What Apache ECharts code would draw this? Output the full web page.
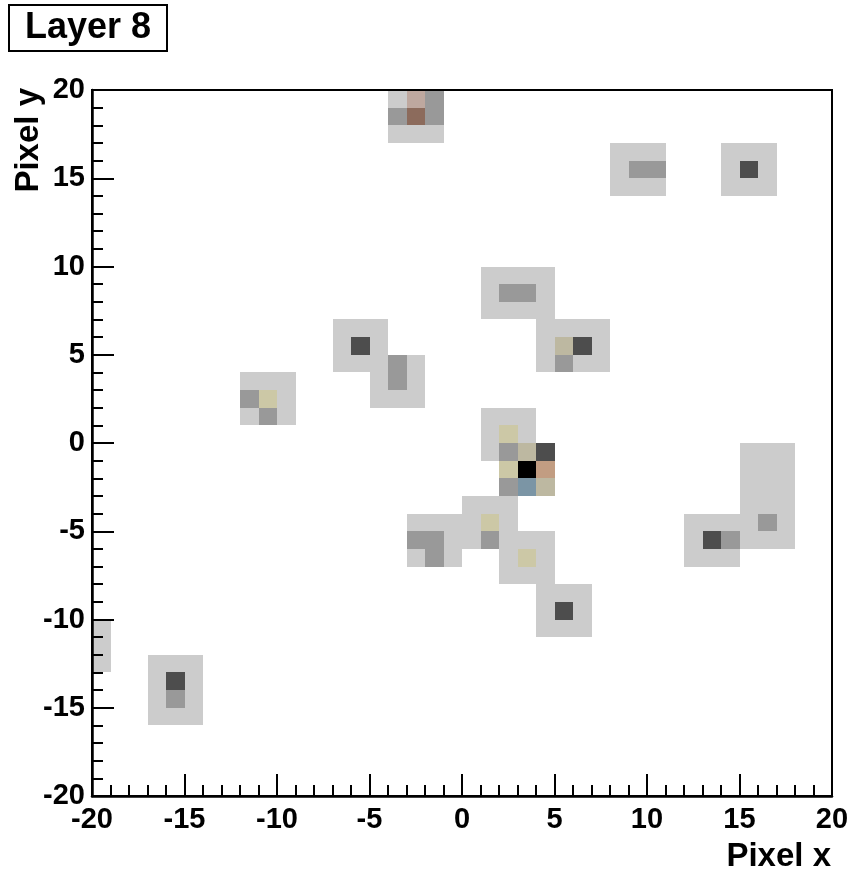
<!DOCTYPE html>
<html>
<head>
<meta charset="utf-8">
<title>Layer 8</title>
<script src="https://cdn.jsdelivr.net/npm/echarts@6/dist/echarts.min.js"></script>
<style>
  html, body { margin: 0; padding: 0; background: #ffffff; }
  #chart { width: 852px; height: 873px; }
</style>
</head>
<body>
<div id="chart"></div>
<script>
// Pixel bins are 1 x 1; each entry is the lower-left corner [x, y] of a bin.
const axisMin = -20;
const axisMax = 20;
const majorStep = 5;

// Neighbouring pixels around each hit (lowest level)
const haloCells = [
  [-4, 19], [-4, 17], [-3, 17], [-2, 17],
  [8, 16], [9, 16], [10, 16], [8, 15], [8, 14], [9, 14], [10, 14],
  [14, 16], [15, 16], [16, 16], [14, 15], [16, 15], [14, 14], [15, 14], [16, 14],
  [-7, 6], [-6, 6], [-5, 6], [-7, 5], [-5, 5], [-7, 4], [-6, 4], [-5, 4],
  [-3, 4], [-5, 3], [-3, 3], [-5, 2], [-4, 2], [-3, 2],
  [1, 9], [2, 9], [3, 9], [4, 9], [1, 8], [4, 8], [1, 7], [2, 7], [3, 7], [4, 7],
  [4, 6], [5, 6], [6, 6], [7, 6], [4, 5], [7, 5], [4, 4], [6, 4], [7, 4],
  [-12, 3], [-11, 3], [-10, 3], [-10, 2], [-12, 1], [-10, 1],
  [1, 1], [2, 1], [3, 1], [1, 0], [3, 0], [1, -1],
  [0, -4], [1, -4], [2, -4], [0, -5], [2, -5], [0, -6], [2, -6],
  [-3, -5], [-2, -5], [-1, -5], [-1, -6], [-3, -7], [-1, -7],
  [3, -6], [4, -6], [2, -7], [4, -7], [2, -8], [3, -8], [4, -8],
  [4, -9], [5, -9], [6, -9], [4, -10], [6, -10], [4, -11], [5, -11], [6, -11],
  [15, -1], [16, -1], [17, -1], [15, -2], [16, -2], [17, -2],
  [15, -3], [16, -3], [17, -3], [15, -4], [16, -4], [17, -4],
  [15, -5], [17, -5], [15, -6], [16, -6], [17, -6],
  [12, -5], [13, -5], [14, -5], [12, -6], [12, -7], [13, -7], [14, -7],
  [-20, -11], [-20, -12], [-20, -13],
  [-17, -13], [-16, -13], [-15, -13], [-17, -14], [-15, -14],
  [-17, -15], [-15, -15], [-17, -16], [-16, -16], [-15, -16]
];

const midCells = [
  [-2, 19], [-4, 18], [-2, 18], [9, 15], [10, 15], [-4, 4], [-4, 3],
  [2, 8], [3, 8], [5, 4], [-12, 2], [-11, 1], [2, -1], [2, -3],
  [1, -6], [-3, -6], [-2, -6], [-2, -7], [16, -5], [14, -6], [-16, -15]
];

const darkCells = [
  [15, 15], [-6, 5], [6, 5], [4, -1], [5, -10], [13, -6], [-16, -14]
];

const peakCells = [[3, -2]];

const tanCells = [[-11, 2], [2, 0], [2, -2], [1, -5], [3, -7]];
const greyTanCells = [[5, 5], [3, -1], [4, -3]];
const roseCells = [[-3, 19]];
const brownCells = [[-3, 18]];
const salmonCells = [[4, -2]];
const steelCells = [[3, -3]];

// Fill colour for each group of bins
const layers = [
  { name: 'halo', cells: haloCells, color: '#cccccc' },
  { name: 'mid', cells: midCells, color: '#999999' },
  { name: 'dark', cells: darkCells, color: '#4d4d4d' },
  { name: 'peak', cells: peakCells, color: '#000000' },
  { name: 'tan', cells: tanCells, color: '#ccc8a6' },
  { name: 'greytan', cells: greyTanCells, color: '#bdb8a1' },
  { name: 'rose', cells: roseCells, color: '#bea89f' },
  { name: 'brown', cells: brownCells, color: '#8c6b5c' },
  { name: 'salmon', cells: salmonCells, color: '#c29d82' },
  { name: 'steel', cells: steelCells, color: '#7b95a5' }
];

const FONT = 'Liberation Sans, Arial, Helvetica, sans-serif';

// Bin edges snapped to whole pixels so that adjacent bins join without seams
function binRenderer(color) {
  return function (params, api) {
    const x = api.value(0);
    const y = api.value(1);
    const topLeft = api.coord([x, y + 1]);
    const bottomRight = api.coord([x + 1, y]);
    const x0 = Math.round(topLeft[0]);
    const y0 = Math.round(topLeft[1]);
    const x1 = Math.round(bottomRight[0]);
    const y1 = Math.round(bottomRight[1]);
    return {
      type: 'rect',
      shape: { x: x0, y: y0, width: x1 - x0, height: y1 - y0 },
      style: { fill: color }
    };
  };
}

function makeAxis(position, labelMargin) {
  return {
    type: 'value',
    position: position,
    min: axisMin,
    max: axisMax,
    interval: majorStep,
    z: 5,
    axisLine: { show: true, onZero: false, lineStyle: { color: '#000', width: 2.5 } },
    axisTick: { show: true, inside: true, length: 22, lineStyle: { color: '#000', width: 2 } },
    minorTick: { show: true, splitNumber: 5, length: 11, lineStyle: { color: '#000', width: 2 } },
    splitLine: { show: false },
    minorSplitLine: { show: false },
    axisLabel: {
      show: true,
      margin: labelMargin,
      color: '#000',
      fontSize: 29,
      fontWeight: 'bold',
      fontFamily: FONT,
      showMinLabel: true,
      showMaxLabel: true
    }
  };
}

const chart = echarts.init(document.getElementById('chart'), null, { renderer: 'canvas' });

chart.setOption({
  animation: false,
  backgroundColor: '#ffffff',
  title: {
    text: 'Layer 8',
    left: 9,
    top: 5,
    padding: [5, 16, 5, 16],
    borderColor: '#000',
    borderWidth: 2,
    textStyle: {
      color: '#000',
      fontSize: 36,
      lineHeight: 36,
      fontWeight: 'bold',
      fontFamily: FONT
    }
  },
  grid: {
    left: 92,
    right: 20,
    top: 90,
    bottom: 77,
    show: true,
    borderColor: '#000',
    borderWidth: 2,
    backgroundColor: 'transparent',
    z: 6,
    containLabel: false,
    outerBoundsMode: 'none'
  },
  xAxis: makeAxis('bottom', 9),
  yAxis: makeAxis('left', 7),
  graphic: [
    {
      type: 'text',
      x: 831,
      y: 857,
      style: {
        text: 'Pixel x',
        fill: '#000',
        font: 'bold 33px ' + FONT,
        textAlign: 'right',
        textVerticalAlign: 'middle'
      }
    },
    {
      type: 'text',
      x: 29,
      y: 88,
      rotation: Math.PI / 2,
      style: {
        text: 'Pixel y',
        fill: '#000',
        font: 'bold 33px ' + FONT,
        textAlign: 'right',
        textVerticalAlign: 'middle'
      }
    }
  ],
  series: layers.map(function (layer) {
    return {
      type: 'custom',
      name: layer.name,
      coordinateSystem: 'cartesian2d',
      clip: true,
      z: 2,
      silent: true,
      encode: { x: 0, y: 1 },
      renderItem: binRenderer(layer.color),
      data: layer.cells
    };
  })
});
</script>
</body>
</html>
